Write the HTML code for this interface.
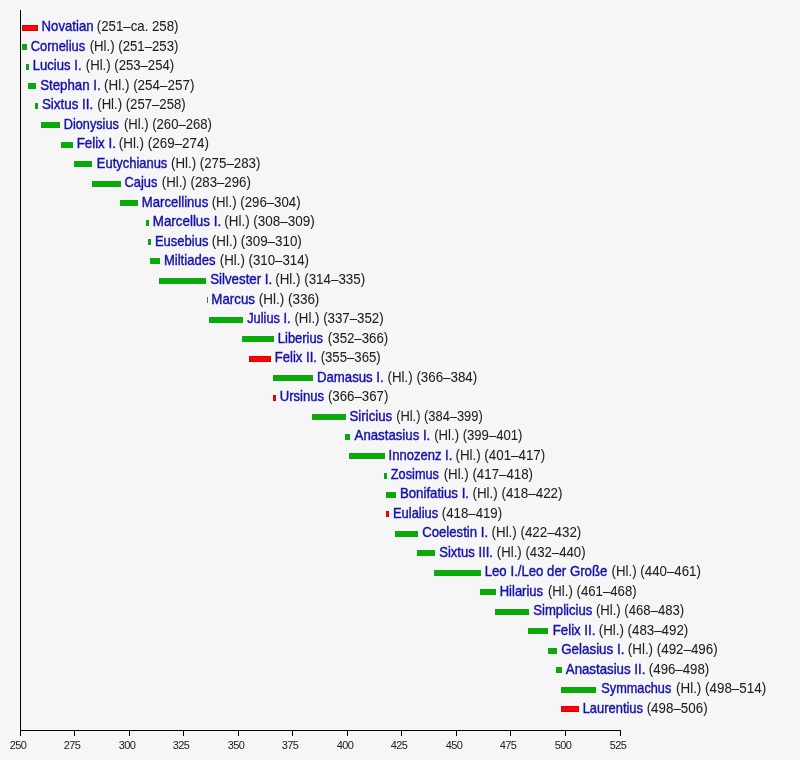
<!DOCTYPE html>
<html lang="de"><head><meta charset="utf-8"><title>Päpste 251–514</title>
<style>
html,body{margin:0;padding:0;background:#f6f6f6}
body{width:800px;height:760px;overflow:hidden}
svg{display:block;will-change:transform}
text{font-family:"Liberation Sans",Arial,sans-serif}
.l{font-size:14px;fill:#202020;stroke:#202020;stroke-width:0.05px}
.k{font-size:14px;fill:#1510ac;stroke:#1510ac;stroke-width:0.4px}
.n{font-size:11px;fill:#202020;text-anchor:middle;letter-spacing:-0.6px}
</style></head><body>
<svg width="800" height="760" viewBox="0 0 800 760">
<rect x="0" y="0" width="800" height="760" fill="#f6f6f6"/>
<rect x="20" y="10" width="1" height="721" fill="#000"/>
<rect x="20" y="730" width="601" height="1" fill="#000"/>
<rect x="20" y="730" width="1" height="6" fill="#000"/>
<rect x="74" y="730" width="1" height="6" fill="#000"/>
<rect x="129" y="730" width="1" height="6" fill="#000"/>
<rect x="183" y="730" width="1" height="6" fill="#000"/>
<rect x="238" y="730" width="1" height="6" fill="#000"/>
<rect x="292" y="730" width="1" height="6" fill="#000"/>
<rect x="347" y="730" width="1" height="6" fill="#000"/>
<rect x="401" y="730" width="1" height="6" fill="#000"/>
<rect x="456" y="730" width="1" height="6" fill="#000"/>
<rect x="510" y="730" width="1" height="6" fill="#000"/>
<rect x="565" y="730" width="1" height="6" fill="#000"/>
<rect x="620" y="730" width="1" height="6" fill="#000"/>
<text class="n" x="18.00" y="749">250</text>
<text class="n" x="72.00" y="749">275</text>
<text class="n" x="127.00" y="749">300</text>
<text class="n" x="181.00" y="749">325</text>
<text class="n" x="236.00" y="749">350</text>
<text class="n" x="290.00" y="749">375</text>
<text class="n" x="345.00" y="749">400</text>
<text class="n" x="399.00" y="749">425</text>
<text class="n" x="454.00" y="749">450</text>
<text class="n" x="508.00" y="749">475</text>
<text class="n" x="563.00" y="749">500</text>
<text class="n" x="618.00" y="749">525</text>
<rect x="22.5" y="25.5" width="15" height="5" fill="#fc0404" stroke="#d40404" stroke-width="1"/>
<rect x="22.5" y="44.5" width="4" height="5" fill="#04ae04" stroke="#16a016" stroke-width="1"/>
<rect x="26.5" y="64.5" width="2" height="5" fill="#04ae04" stroke="#16a016" stroke-width="1"/>
<rect x="28.5" y="83.5" width="7" height="5" fill="#04ae04" stroke="#16a016" stroke-width="1"/>
<rect x="35.5" y="103.5" width="2" height="5" fill="#04ae04" stroke="#16a016" stroke-width="1"/>
<rect x="41.5" y="122.5" width="18" height="5" fill="#04ae04" stroke="#16a016" stroke-width="1"/>
<rect x="61.5" y="142.5" width="11" height="5" fill="#04ae04" stroke="#16a016" stroke-width="1"/>
<rect x="74.5" y="161.5" width="17" height="5" fill="#04ae04" stroke="#16a016" stroke-width="1"/>
<rect x="92.5" y="181.5" width="28" height="5" fill="#04ae04" stroke="#16a016" stroke-width="1"/>
<rect x="120.5" y="200.5" width="17" height="5" fill="#04ae04" stroke="#16a016" stroke-width="1"/>
<rect x="146.5" y="220.5" width="2" height="5" fill="#04ae04" stroke="#16a016" stroke-width="1"/>
<rect x="148.5" y="239.5" width="2" height="5" fill="#04ae04" stroke="#16a016" stroke-width="1"/>
<rect x="150.5" y="258.5" width="9" height="5" fill="#04ae04" stroke="#16a016" stroke-width="1"/>
<rect x="159.5" y="278.5" width="46" height="5" fill="#04ae04" stroke="#16a016" stroke-width="1"/>
<rect x="207" y="297" width="1" height="6" fill="#16a016"/>
<rect x="209.5" y="317.5" width="33" height="5" fill="#04ae04" stroke="#16a016" stroke-width="1"/>
<rect x="242.5" y="336.5" width="31" height="5" fill="#04ae04" stroke="#16a016" stroke-width="1"/>
<rect x="249.5" y="356.5" width="21" height="5" fill="#fc0404" stroke="#d40404" stroke-width="1"/>
<rect x="273.5" y="375.5" width="39" height="5" fill="#04ae04" stroke="#16a016" stroke-width="1"/>
<rect x="273.5" y="395.5" width="2" height="5" fill="#fc0404" stroke="#d40404" stroke-width="1"/>
<rect x="312.5" y="414.5" width="33" height="5" fill="#04ae04" stroke="#16a016" stroke-width="1"/>
<rect x="345.5" y="434.5" width="4" height="5" fill="#04ae04" stroke="#16a016" stroke-width="1"/>
<rect x="349.5" y="453.5" width="35" height="5" fill="#04ae04" stroke="#16a016" stroke-width="1"/>
<rect x="384.5" y="473.5" width="2" height="5" fill="#04ae04" stroke="#16a016" stroke-width="1"/>
<rect x="386.5" y="492.5" width="9" height="5" fill="#04ae04" stroke="#16a016" stroke-width="1"/>
<rect x="386.5" y="511.5" width="2" height="5" fill="#fc0404" stroke="#d40404" stroke-width="1"/>
<rect x="395.5" y="531.5" width="22" height="5" fill="#04ae04" stroke="#16a016" stroke-width="1"/>
<rect x="417.5" y="550.5" width="17" height="5" fill="#04ae04" stroke="#16a016" stroke-width="1"/>
<rect x="434.5" y="570.5" width="46" height="5" fill="#04ae04" stroke="#16a016" stroke-width="1"/>
<rect x="480.5" y="589.5" width="15" height="5" fill="#04ae04" stroke="#16a016" stroke-width="1"/>
<rect x="495.5" y="609.5" width="33" height="5" fill="#04ae04" stroke="#16a016" stroke-width="1"/>
<rect x="528.5" y="628.5" width="19" height="5" fill="#04ae04" stroke="#16a016" stroke-width="1"/>
<rect x="548.5" y="648.5" width="8" height="5" fill="#04ae04" stroke="#16a016" stroke-width="1"/>
<rect x="556.5" y="667.5" width="5" height="5" fill="#04ae04" stroke="#16a016" stroke-width="1"/>
<rect x="561.5" y="687.5" width="34" height="5" fill="#04ae04" stroke="#16a016" stroke-width="1"/>
<rect x="561.5" y="706.5" width="17" height="5" fill="#fc0404" stroke="#d40404" stroke-width="1"/>
<text class="k" transform="translate(41.56 31) scale(0.9418 1)">Novatian</text>
<text class="l" transform="translate(96.85 31) scale(0.9456 1)">(251–ca. 258)</text>
<text class="k" transform="translate(30.76 51) scale(0.9188 1)">Cornelius</text>
<text class="l" transform="translate(89.70 51) scale(0.9432 1)">(Hl.) (251–253)</text>
<text class="k" transform="translate(32.77 70) scale(0.9357 1)">Lucius I.</text>
<text class="l" transform="translate(85.86 70) scale(0.9383 1)">(Hl.) (253–254)</text>
<text class="k" transform="translate(40.14 90) scale(0.9499 1)">Stephan I.</text>
<text class="l" transform="translate(104.04 90) scale(0.9600 1)">(Hl.) (254–257)</text>
<text class="k" transform="translate(41.88 109) scale(0.9565 1)">Sixtus II.</text>
<text class="l" transform="translate(97.25 109) scale(0.9394 1)">(Hl.) (257–258)</text>
<text class="k" transform="translate(63.80 129) scale(0.9078 1)">Dionysius</text>
<text class="l" transform="translate(123.96 129) scale(0.9340 1)">(Hl.) (260–268)</text>
<text class="k" transform="translate(76.65 148) scale(0.9524 1)">Felix I.</text>
<text class="l" transform="translate(118.74 148) scale(0.9589 1)">(Hl.) (269–274)</text>
<text class="k" transform="translate(96.83 168) scale(0.9257 1)">Eutychianus</text>
<text class="l" transform="translate(170.99 168) scale(0.9508 1)">(Hl.) (275–283)</text>
<text class="k" transform="translate(124.56 187) scale(0.9191 1)">Cajus</text>
<text class="l" transform="translate(161.75 187) scale(0.9481 1)">(Hl.) (283–296)</text>
<text class="k" transform="translate(141.77 207) scale(0.9393 1)">Marcellinus</text>
<text class="l" transform="translate(211.65 207) scale(0.9459 1)">(Hl.) (296–304)</text>
<text class="k" transform="translate(152.75 226) scale(0.9566 1)">Marcellus I.</text>
<text class="l" transform="translate(224.24 226) scale(0.9610 1)">(Hl.) (308–309)</text>
<text class="k" transform="translate(154.88 246) scale(0.9304 1)">Eusebius</text>
<text class="l" transform="translate(211.84 246) scale(0.9567 1)">(Hl.) (309–310)</text>
<text class="k" transform="translate(163.97 265) scale(0.9328 1)">Miltiades</text>
<text class="l" transform="translate(219.85 265) scale(0.9481 1)">(Hl.) (310–314)</text>
<text class="k" transform="translate(210.13 284) scale(0.9511 1)">Silvester I.</text>
<text class="l" transform="translate(275.24 284) scale(0.9556 1)">(Hl.) (314–335)</text>
<text class="k" transform="translate(211.35 304) scale(0.9503 1)">Marcus</text>
<text class="l" transform="translate(258.84 304) scale(0.9608 1)">(Hl.) (336)</text>
<text class="k" transform="translate(247.22 323) scale(0.9152 1)">Julius I.</text>
<text class="l" transform="translate(294.45 323) scale(0.9491 1)">(Hl.) (337–352)</text>
<text class="k" transform="translate(277.83 343) scale(0.9230 1)">Liberius</text>
<text class="l" transform="translate(327.85 343) scale(0.9469 1)">(352–366)</text>
<text class="k" transform="translate(274.82 362) scale(0.9333 1)">Felix II.</text>
<text class="l" transform="translate(320.65 362) scale(0.9420 1)">(355–365)</text>
<text class="k" transform="translate(316.96 382) scale(0.9430 1)">Damasus I.</text>
<text class="l" transform="translate(387.54 382) scale(0.9535 1)">(Hl.) (366–384)</text>
<text class="k" transform="translate(279.67 401) scale(0.9367 1)">Ursinus</text>
<text class="l" transform="translate(327.95 401) scale(0.9469 1)">(366–367)</text>
<text class="k" transform="translate(349.44 421) scale(0.9499 1)">Siricius</text>
<text class="l" transform="translate(396.17 421) scale(0.9199 1)">(Hl.) (384–399)</text>
<text class="k" transform="translate(354.60 440) scale(0.9442 1)">Anastasius I.</text>
<text class="l" transform="translate(434.26 440) scale(0.9372 1)">(Hl.) (399–401)</text>
<text class="k" transform="translate(388.59 460) scale(0.9302 1)">Innozenz I.</text>
<text class="l" transform="translate(455.44 460) scale(0.9545 1)">(Hl.) (401–417)</text>
<text class="k" transform="translate(390.84 479) scale(0.9096 1)">Zosimus</text>
<text class="l" transform="translate(443.64 479) scale(0.9502 1)">(Hl.) (417–418)</text>
<text class="k" transform="translate(399.96 498) scale(0.9435 1)">Bonifatius I.</text>
<text class="l" transform="translate(472.44 498) scale(0.9578 1)">(Hl.) (418–422)</text>
<text class="k" transform="translate(392.99 518) scale(0.9219 1)">Eulalius</text>
<text class="l" transform="translate(441.75 518) scale(0.9469 1)">(418–419)</text>
<text class="k" transform="translate(422.14 537) scale(0.9427 1)">Coelestin I.</text>
<text class="l" transform="translate(491.54 537) scale(0.9545 1)">(Hl.) (422–432)</text>
<text class="k" transform="translate(439.15 557) scale(0.9353 1)">Sixtus III.</text>
<text class="l" transform="translate(496.85 557) scale(0.9426 1)">(Hl.) (432–440)</text>
<text class="k" transform="translate(484.66 576) scale(0.9446 1)">Leo I./Leo der Große</text>
<text class="l" transform="translate(611.54 576) scale(0.9502 1)">(Hl.) (440–461)</text>
<text class="k" transform="translate(499.68 596) scale(0.9313 1)">Hilarius</text>
<text class="l" transform="translate(547.95 596) scale(0.9426 1)">(Hl.) (461–468)</text>
<text class="k" transform="translate(533.24 615) scale(0.9385 1)">Simplicius</text>
<text class="l" transform="translate(595.91 615) scale(0.9378 1)">(Hl.) (468–483)</text>
<text class="k" transform="translate(552.76 635) scale(0.9461 1)">Felix II.</text>
<text class="l" transform="translate(598.74 635) scale(0.9513 1)">(Hl.) (483–492)</text>
<text class="k" transform="translate(561.18 654) scale(0.9572 1)">Gelasius I.</text>
<text class="l" transform="translate(627.84 654) scale(0.9545 1)">(Hl.) (492–496)</text>
<text class="k" transform="translate(565.80 674) scale(0.9469 1)">Anastasius II.</text>
<text class="l" transform="translate(648.85 674) scale(0.9469 1)">(496–498)</text>
<text class="k" transform="translate(601.36 693) scale(0.9090 1)">Symmachus</text>
<text class="l" transform="translate(676.04 693) scale(0.9578 1)">(Hl.) (498–514)</text>
<text class="k" transform="translate(582.68 713) scale(0.9232 1)">Laurentius</text>
<text class="l" transform="translate(646.64 713) scale(0.9565 1)">(498–506)</text>
</svg>
</body></html>
